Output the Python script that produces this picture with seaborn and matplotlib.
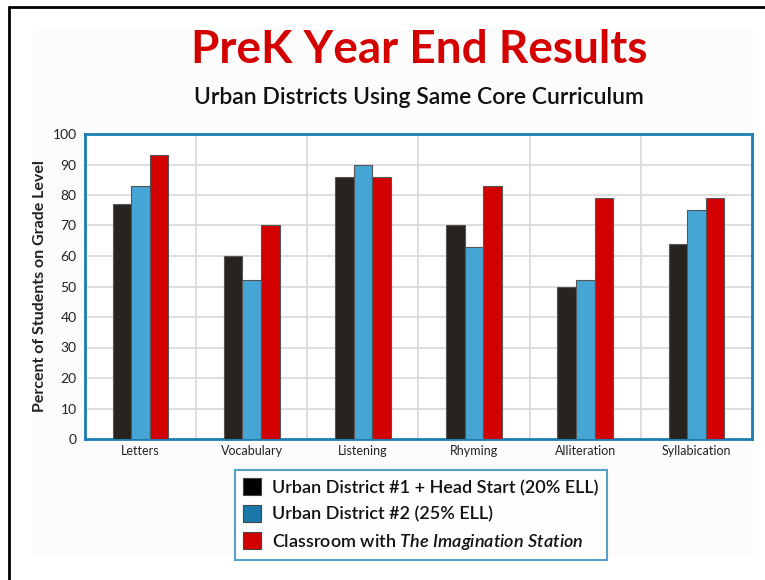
import matplotlib
matplotlib.use("Agg")
import matplotlib.pyplot as plt
import seaborn as sns
import pandas as pd
from matplotlib.patches import Rectangle, Patch

categories = ["Letters", "Vocabulary", "Listening", "Rhyming", "Alliteration", "Syllabication"]
district1 = [77, 60, 86, 70, 50, 64]
district2 = [83, 52, 90, 63, 52, 75]
classroom = [93, 70, 86, 83, 79, 79]
series_names = ["Urban District #1 + Head Start (20% ELL)",
                "Urban District #2 (25% ELL)",
                "Classroom with The Imagination Station"]
yticks = [0, 10, 20, 30, 40, 50, 60, 70, 80, 90, 100]

rows = []
for name, vals in zip(series_names, [district1, district2, classroom]):
    for c, v in zip(categories, vals):
        rows.append({"Category": c, "Series": name, "Value": v})
df = pd.DataFrame(rows)

sns.set_theme(style="white")
plt.rcParams['font.family'] = ['Lato', 'DejaVu Sans']
plt.rcParams['mathtext.fontset'] = 'custom'
plt.rcParams['mathtext.it'] = 'Lato:italic:semibold'
plt.rcParams['mathtext.rm'] = 'Lato'

W, H = 765, 580
fig = plt.figure(figsize=(W / 100, H / 100), dpi=100)
fig.patch.set_facecolor("white")

# background panel and frame
fig.patches.append(Rectangle((33 / W, 1 - 557 / H), (753 - 33) / W, (557 - 30) / H,
                             transform=fig.transFigure, facecolor="#fcfcfc",
                             edgecolor="none", zorder=-2))
fig.add_artist(plt.Line2D([8.5 / W, 8.5 / W], [0, 1 - 7 / H], transform=fig.transFigure,
                          color="black", lw=2))
fig.add_artist(plt.Line2D([8.5 / W, 1], [1 - 7 / H, 1 - 7 / H], transform=fig.transFigure,
                          color="black", lw=2))

ax = fig.add_axes([85 / W, 1 - 439 / H, (752 - 85) / W, (439 - 134) / H])
ax.set_facecolor("white")

bar_colors = ["#27241f", "#45a6d5", "#d20000"]
sns.barplot(data=df, x="Category", y="Value", hue="Series", order=categories,
            hue_order=series_names, palette=bar_colors, width=0.5, saturation=1, ax=ax,
            edgecolor="#555555", linewidth=0.8, legend=False, zorder=3)

ax.set_ylim(0, 100)
ax.set_xlim(-0.5, len(categories) - 0.5)
ax.set_yticks(yticks)
ax.set_yticklabels([str(t) for t in yticks], fontsize=10, color="#222222")
ax.tick_params(axis="y", length=0, pad=6)
ax.tick_params(axis="x", length=0, pad=4)
ax.set_xticklabels(categories, fontsize=9, color="#222222")
ax.set_xlabel("")
ax.set_ylabel("Percent of Students on Grade Level", fontsize=11.5, fontweight="bold",
              color="#222222", labelpad=4)

# gridlines
for t in yticks[1:-1]:
    ax.axhline(t, color="#d8d8d8", lw=1.2, zorder=0)
for i in range(len(categories) - 1):
    ax.axvline(i + 0.5, color="#d8d8d8", lw=1.2, zorder=0)
for s in ax.spines.values():
    s.set_color("#1a7fb0")
    s.set_linewidth(2)

fig.text(419 / W, 1 - 50 / H, "PreK Year End Results", ha="center", va="center",
         fontsize=33, fontweight="bold", color="#d40000")
fig.text(419 / W, 1 - 98 / H, "Urban Districts Using Same Core Curriculum", ha="center",
         va="center", fontsize=16.5, fontweight="semibold", color="#111111")

legend_colors = ["#000000", "#1a78aa", "#d20000"]
handles = [Patch(facecolor=c, edgecolor="#444444", linewidth=0.8) for c in legend_colors]
labels = ["Urban District #1 + Head Start (20% ELL)",
          "Urban District #2 (25% ELL)",
          "Classroom with $\\it{The\\ Imagination\\ Station}$"]
leg = fig.legend(handles, labels, loc="upper left",
                 bbox_to_anchor=(235 / W, 1 - 470 / H), fontsize=13,
                 frameon=True, fancybox=False, handlelength=1.0, handleheight=1.1,
                 handletextpad=0.6, labelspacing=0.5, borderpad=0.45, borderaxespad=0)
leg.get_frame().set_edgecolor("#2a8ab8")
leg.get_frame().set_linewidth(1.5)
for t in leg.get_texts():
    t.set_color("#111111")
    t.set_fontweight("semibold")

fig.savefig("out.png", dpi=100, facecolor="white")
